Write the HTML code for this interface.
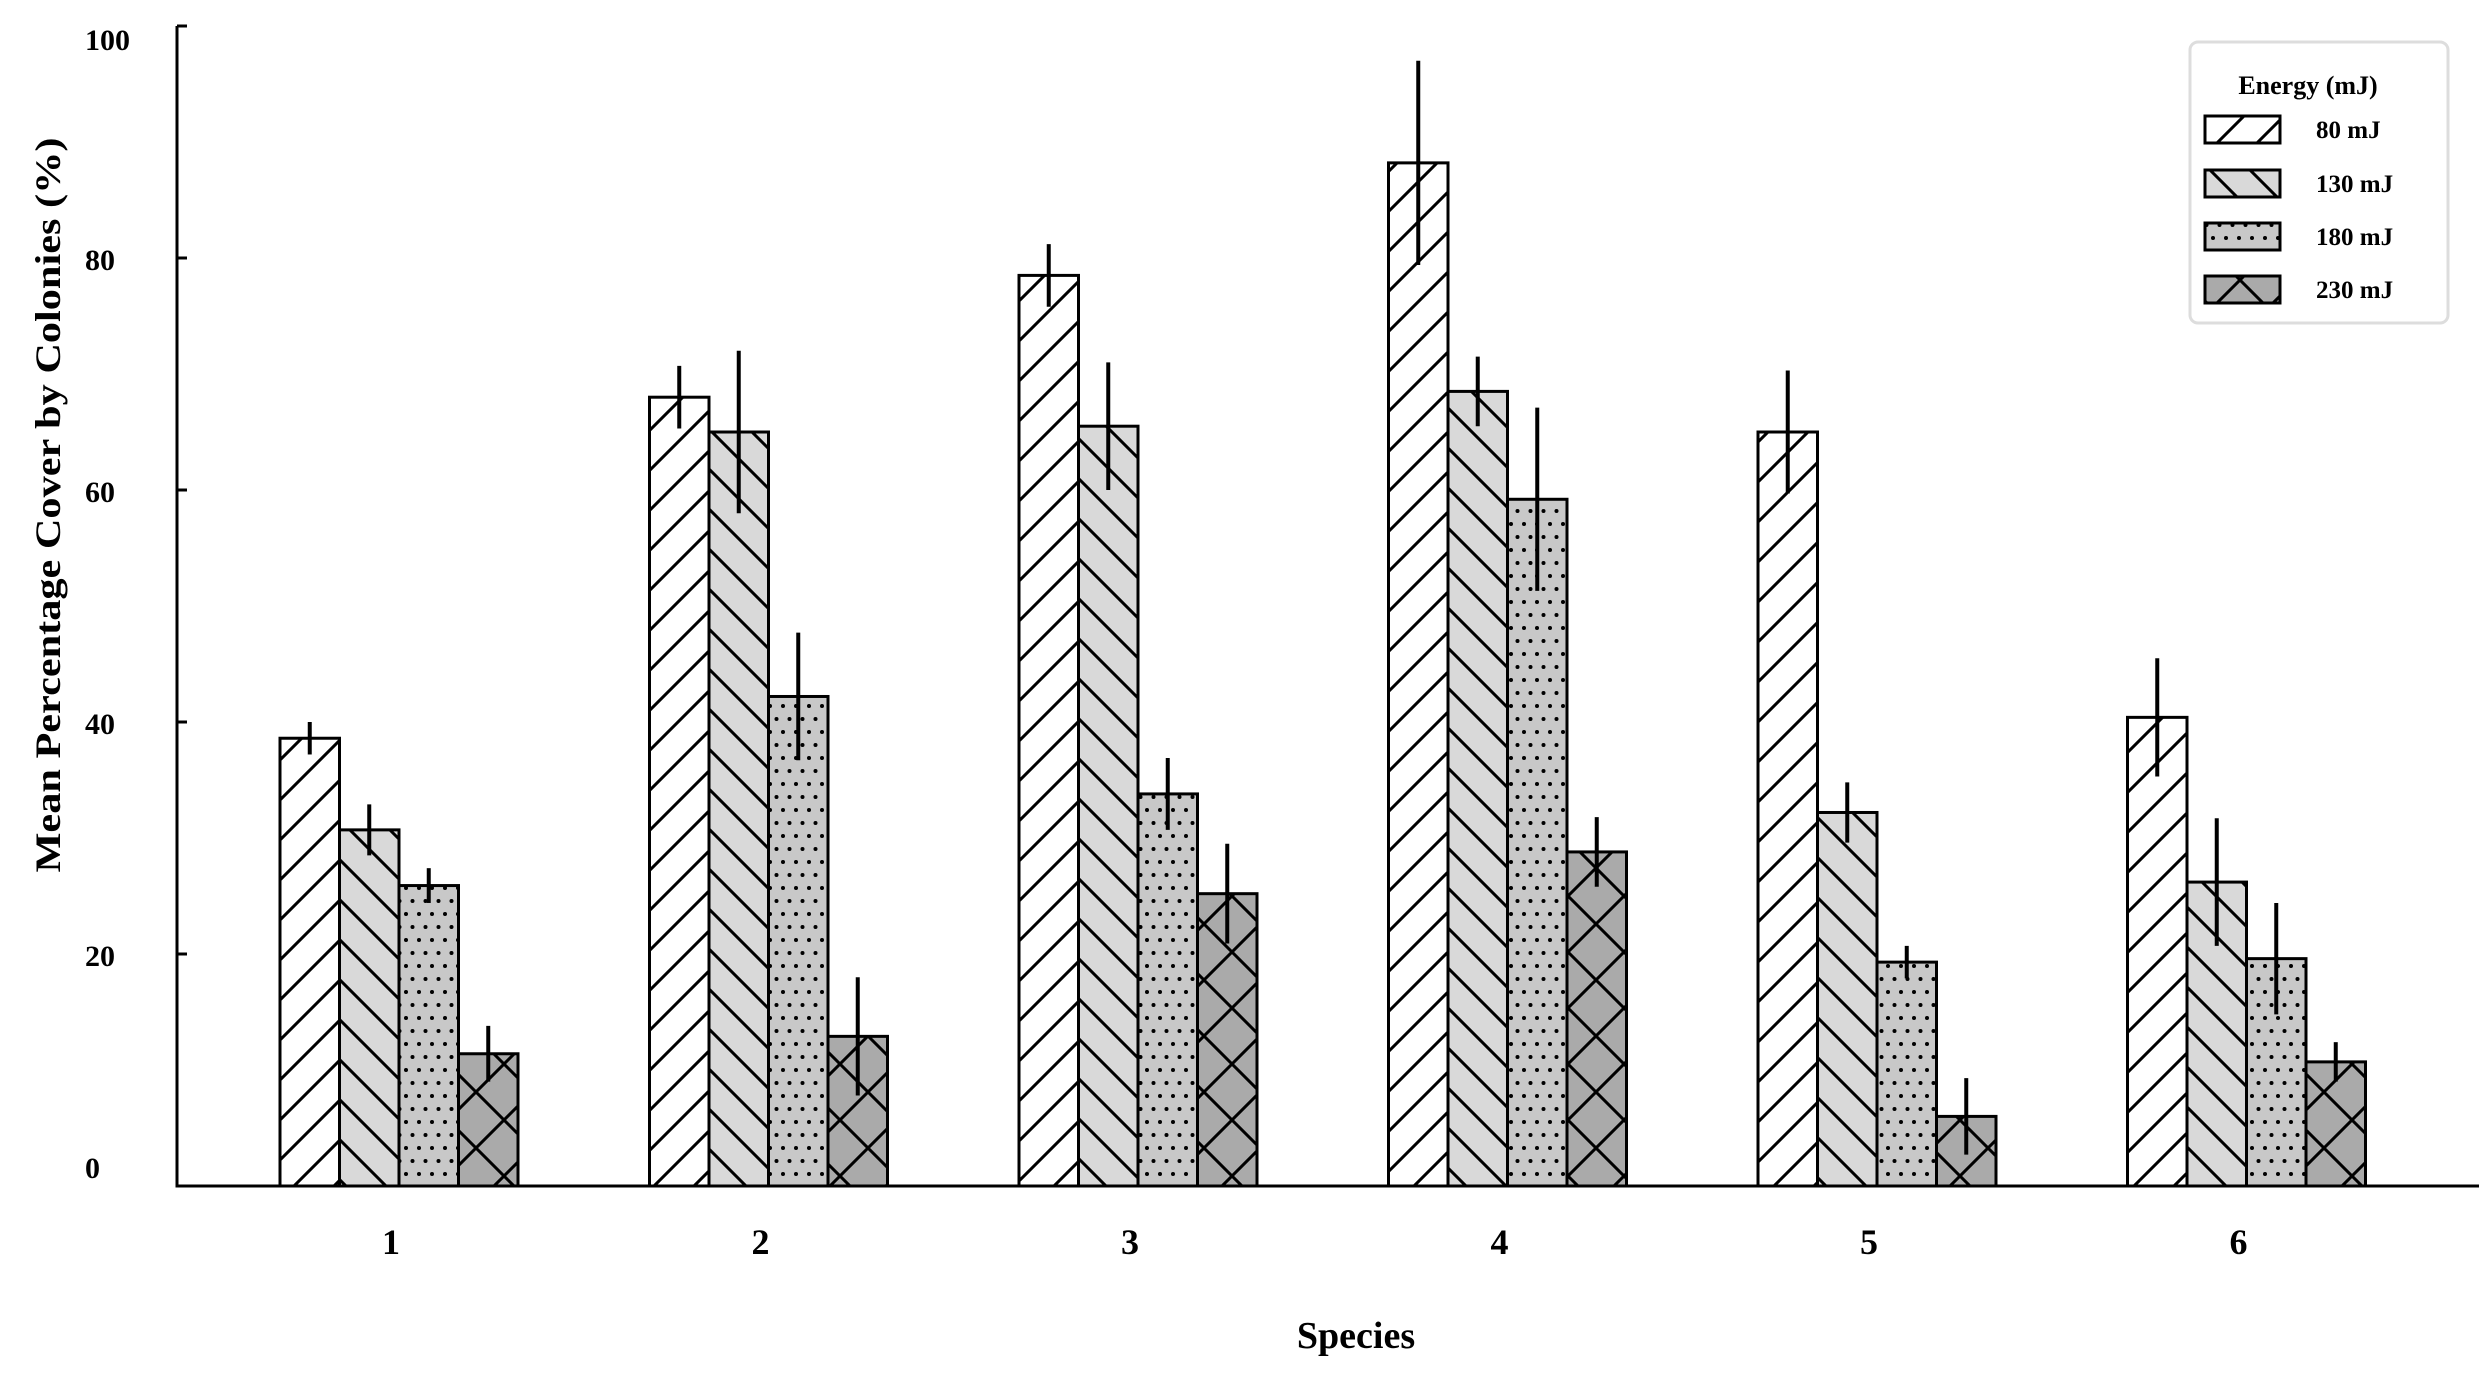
<!DOCTYPE html>
<html><head><meta charset="utf-8"><style>
html,body{margin:0;padding:0;background:#fff;}
svg{display:block;font-family:"Liberation Serif",serif;font-weight:bold;}
</style></head><body>
<svg id="chart" width="2492" height="1376" viewBox="0 0 2492 1376" xmlns="http://www.w3.org/2000/svg">
<defs>
<pattern id="p80" patternUnits="userSpaceOnUse" width="40" height="40"><rect width="40" height="40" fill="#fff"/><path d="M-10,10 L10,-10 M0,40 L40,0 M30,50 L50,30" stroke="#000" stroke-width="3"/></pattern>
<pattern id="p130" patternUnits="userSpaceOnUse" width="40" height="40"><rect width="40" height="40" fill="#d9d9d9"/><path d="M-10,30 L10,50 M0,0 L40,40 M30,-10 L50,10" stroke="#000" stroke-width="3"/></pattern>
<pattern id="p180" patternUnits="userSpaceOnUse" width="13" height="26"><rect width="13" height="26" fill="#c8c8c8"/><circle cx="3" cy="4" r="2" fill="#000"/><circle cx="9.5" cy="17" r="2" fill="#000"/></pattern>
<pattern id="p230" patternUnits="userSpaceOnUse" width="56" height="56"><rect width="56" height="56" fill="#aaaaaa"/><path d="M0,0 L56,56 M56,0 L0,56" stroke="#000" stroke-width="3"/></pattern>
</defs>
<g id="plot"></g>
<g id="legend">
<rect x="2190" y="42" width="258" height="281" rx="8" fill="#fff" stroke="#ddd" stroke-width="3"/>
<text x="2308" y="94" font-size="26" text-anchor="middle">Energy (mJ)</text>
</g>
</svg>
<script>
const categories = ["1","2","3","4","5","6"];
const seriesNames = ["80 mJ","130 mJ","180 mJ","230 mJ"];
const s80 = [38.6, 68.0, 78.5, 88.2, 65.0, 40.4];
const s130 = [30.7, 65.0, 65.5, 68.5, 32.2, 26.2];
const s180 = [25.9, 42.2, 33.8, 59.2, 19.3, 19.6];
const s230 = [11.4, 12.9, 25.2, 28.8, 6.0, 10.7];
const e80 = [1.4, 2.7, 2.7, 8.8, 5.3, 5.1];
const e130 = [2.2, 7.0, 5.5, 3.0, 2.6, 5.5];
const e180 = [1.5, 5.5, 3.1, 7.9, 1.4, 4.8];
const e230 = [2.4, 5.1, 4.3, 3.0, 3.3, 1.7];
const yTicks = [0, 20, 40, 60, 80, 100];

const NS = "http://www.w3.org/2000/svg";
const plot = document.getElementById('plot');
const X0 = 177, Y0 = 1186, YTOP = 26, XEND = 2479;
const y = v => Y0 - v * (Y0 - YTOP) / 100;
const groupCenter = i => 399 + i * 369.5;
const BW = 59.5;
function mk(tag, attrs, parent) {
  const el = document.createElementNS(NS, tag);
  for (const k in attrs) el.setAttribute(k, attrs[k]);
  (parent || plot).appendChild(el);
  return el;
}
const vals = [s80, s130, s180, s230];
const errs = [e80, e130, e180, e230];
const fills = ["url(#p80)", "url(#p130)", "url(#p180)", "url(#p230)"];

categories.forEach((c, i) => {
  const cx = groupCenter(i);
  vals.forEach((arr, s) => {
    const x = cx - 2 * BW + s * BW;
    const r = mk('rect', {x: x, y: y(arr[i]), width: BW, height: Y0 - y(arr[i]), fill: fills[s], stroke: '#000', 'stroke-width': 3});
    
    
  });
  vals.forEach((arr, s) => {
    const x = cx - 2 * BW + s * BW + BW / 2;
    const l = mk('line', {x1: x, x2: x, y1: y(arr[i] + errs[s][i]), y2: y(arr[i] - errs[s][i]), stroke: '#000', 'stroke-width': 4});
    
    
  });
  const t = mk('text', {x: cx - 8, y: 1254, 'font-size': 36, 'text-anchor': 'middle'});
  t.textContent = c;
  
  
});

yTicks.forEach(v => {
  const tk = mk('line', {x1: X0, x2: X0 + 10, y1: y(v), y2: y(v), stroke: '#000', 'stroke-width': 3});
  
  
  const t = mk('text', {x: 85, y: y(v) + (v === 0 ? -8 : v === 100 ? 24 : 12), 'font-size': 30});
  t.textContent = v;
  
  
});

const ya = mk('path', {d: `M${X0},${YTOP} L${X0},${Y0} L${XEND},${Y0}`, fill: 'none', stroke: '#000', 'stroke-width': 3});



const yt = mk('text', {x: 0, y: 0, 'font-size': 36, 'text-anchor': 'middle', transform: 'translate(60,505) rotate(-90)', textLength: 735, lengthAdjust: 'spacingAndGlyphs'});
yt.textContent = 'Mean Percentage Cover by Colonies (%)';



const xt = mk('text', {x: 1356, y: 1348, 'font-size': 38, 'text-anchor': 'middle'});
xt.textContent = 'Species';



const lg = document.getElementById('legend');
const rowsY = [129, 183, 236, 289];
seriesNames.forEach((n, s) => {
  const r = mk('rect', {x: 2205, y: rowsY[s] - 13, width: 75, height: 27, fill: fills[s], stroke: '#000', 'stroke-width': 3}, lg);
  
  
  const t = mk('text', {x: 2316, y: rowsY[s] + 9, 'font-size': 25}, lg);
  t.textContent = n;
  
  
});
</script>
</body></html>
